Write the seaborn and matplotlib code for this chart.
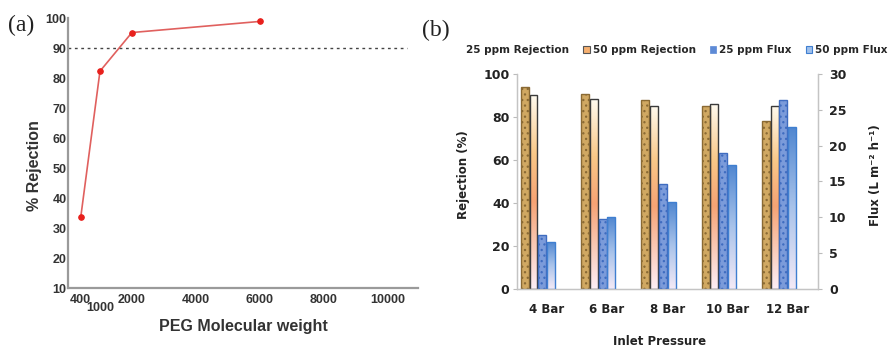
import numpy as np
import pandas as pd
import matplotlib
matplotlib.use("Agg")
import matplotlib.pyplot as plt
import seaborn as sns
from matplotlib.colors import LinearSegmentedColormap, to_hex
from matplotlib.patches import Patch

# ---------------- data ----------------
peg_mw = [400, 1000, 2000, 6000]
peg_rejection = [33.8, 82.4, 95.3, 99.0]
mw_ticks = [400, 1000, 2000, 4000, 6000, 8000, 10000]
rej_ticks_a = [10, 20, 30, 40, 50, 60, 70, 80, 90, 100]
threshold = 90

pressures = ["4 Bar", "6 Bar", "8 Bar", "10 Bar", "12 Bar"]
rej_25 = [93.8, 90.7, 87.9, 85.1, 77.9]
rej_50 = [90.2, 88.2, 85.1, 85.9, 85.1]
flux_25 = [7.6, 9.7, 14.6, 19.0, 26.4]
flux_50 = [6.6, 10.1, 12.1, 17.3, 22.6]
series = ["25 ppm Rejection", "50 ppm Rejection", "25 ppm Flux", "50 ppm Flux"]
rej_ticks_b = [0, 20, 40, 60, 80, 100]
flux_ticks = [0, 5, 10, 15, 20, 25, 30]

rows = []
for name, vals in zip(series, [rej_25, rej_50, flux_25, flux_50]):
    for p, v in zip(pressures, vals):
        rows.append({"Pressure": p, "Series": name, "Value": v})
df = pd.DataFrame(rows)
df_rej = df[df["Series"].str.contains("Rejection")]
df_flux = df[df["Series"].str.contains("Flux")]

# ---------------- style ----------------
sns.set_style("white")
plt.rcParams["font.family"] = ["DejaVu Sans"]
plt.rcParams["hatch.linewidth"] = 0.9

fig = plt.figure(figsize=(8.89, 3.48), dpi=100)
axa = fig.add_axes([0.0765, 0.172, 0.3937, 0.775])
axb = fig.add_axes([0.581, 0.1695, 0.339, 0.618])

# ---------------- panel (a) ----------------
fa = dict(family=["Liberation Sans", "DejaVu Sans"], weight="bold")
sns.lineplot(x=peg_mw, y=peg_rejection, ax=axa, color="#e0605e", lw=1.2,
             marker="o", markersize=4, markerfacecolor="#e8201c",
             markeredgecolor="#e8201c", clip_on=False)
axa.set_xlim(0, 10950)
axa.set_ylim(10, 100)
axa.axhline(threshold, xmin=0, xmax=10600 / 10950, color="#444444",
            ls=(0, (2, 2.6)), lw=1.0)
axa.set_xticks(mw_ticks)
axa.set_xticklabels([str(t) for t in mw_ticks], fontsize=9, color="#333333", **fa)
axa.set_yticks(rej_ticks_a)
axa.set_yticklabels([str(t) for t in rej_ticks_a], fontsize=9, color="#333333", **fa)
axa.tick_params(axis="both", length=0)
axa.tick_params(axis="x", pad=4)
axa.tick_params(axis="y", pad=1)
axa.xaxis.get_major_ticks()[1].set_pad(10)
for s in ["top", "right"]:
    axa.spines[s].set_visible(False)
for s in ["left", "bottom"]:
    axa.spines[s].set_color("#9a9a9a")
    axa.spines[s].set_linewidth(1.6)
axa.set_xlabel("PEG Molecular weight", fontsize=11.5, color="#333333", **fa)
axa.set_ylabel("% Rejection", fontsize=11.5, color="#333333", **fa)
axa.xaxis.set_label_coords(0.5, -0.113)
axa.yaxis.set_label_coords(-0.075, 0.456)

# ---------------- panel (b) ----------------
pal = {"25 ppm Rejection": "#d0a862", "50 ppm Rejection": "#f6b070",
       "25 ppm Flux": "#7b9bda", "50 ppm Flux": "#7aa3de"}
edges = {"25 ppm Rejection": "#8a6a34", "50 ppm Rejection": "#3a3a3a",
         "25 ppm Flux": "#3f6cc0", "50 ppm Flux": "#3f7fd0"}
hatches = {"25 ppm Rejection": "...", "25 ppm Flux": "..."}
color_to_series = {to_hex(c): n for n, c in pal.items()}

ax2 = axb.twinx()
sns.barplot(data=df_rej, x="Pressure", y="Value", hue="Series", hue_order=series,
            order=pressures, palette=pal, saturation=1, width=0.584, gap=0.1,
            ax=axb, legend=False)
sns.barplot(data=df_flux, x="Pressure", y="Value", hue="Series", hue_order=series,
            order=pressures, palette=pal, saturation=1, width=0.584, gap=0.1,
            ax=ax2, legend=False)

grad_rej = LinearSegmentedColormap.from_list(
    "gr", [(0, "#fdeef6"), (0.45, "#f6a374"), (0.7, "#f9c888"), (1, "#fffaee")])
grad_flux = LinearSegmentedColormap.from_list(
    "gf", [(0, "#f4eaf6"), (0.5, "#a9c3ea"), (1, "#4f86d0")])
gvals = np.linspace(0, 1, 200).reshape(-1, 1)

for ax in (axb, ax2):
    for patch in list(ax.patches):
        name = color_to_series.get(to_hex(patch.get_facecolor()))
        if name is None:
            continue
        patch.set_edgecolor(edges[name])
        patch.set_linewidth(1.0)
        if name in hatches:
            patch.set_hatch(hatches[name])
        else:
            cmap = grad_rej if "Rejection" in name else grad_flux
            x0, w, h = patch.get_x(), patch.get_width(), patch.get_height()
            patch.set_facecolor("none")
            im = ax.imshow(cmap(gvals), extent=(x0, x0 + w, 0, h), origin="lower",
                           aspect="auto", zorder=patch.get_zorder() - 0.05,
                           interpolation="bilinear")
            im.set_clip_path(patch)

shift = 0.1445
axb.set_xlim(-0.5 + shift, 4.5 + shift)
axb.set_ylim(0, 100)
ax2.set_ylim(0, 30)
axb.set_xticks(np.arange(len(pressures) + 1) - 0.5 + shift)
axb.set_xticklabels([])
axb.set_xticks(np.arange(len(pressures)) + shift, minor=True)
fb = dict(family=["DejaVu Sans"], weight="bold")
axb.set_xticklabels(pressures, minor=True, fontsize=8.5, color="#222222", **fb)
axb.tick_params(axis="x", which="minor", length=0, pad=10)
axb.tick_params(axis="x", which="major", length=3, color="#bbbbbb", width=0.8)
axb.set_yticks(rej_ticks_b)
axb.set_yticklabels([str(t) for t in rej_ticks_b], fontsize=9, color="#222222", **fb)
axb.tick_params(axis="y", length=3, color="#bbbbbb", width=0.8, pad=2)
ax2.set_yticks(flux_ticks)
ax2.set_yticklabels([str(t) for t in flux_ticks], fontsize=9, color="#222222", **fb)
ax2.tick_params(axis="y", length=3, color="#bbbbbb", width=0.8, pad=5)
for a in (axb, ax2):
    a.spines["top"].set_visible(False)
    for s in ["left", "right", "bottom"]:
        a.spines[s].set_color("#c4c4c4")
        a.spines[s].set_linewidth(0.9)
    a.grid(False)
axb.set_xlabel("Inlet Pressure", fontsize=8.5, color="#222222", **fb)
axb.set_ylabel("Rejection (%)", fontsize=8.5, color="#222222", **fb)
ax2.set_ylabel("Flux (L m\u207b\u00b2 h\u207b\u00b9)", fontsize=8.5, color="#222222", **fb)
axb.xaxis.set_label_coords(0.476, -0.215)
axb.yaxis.set_label_coords(-0.155, 0.53)
ax2.yaxis.set_label_coords(1.17, 0.53)

# legend
handles = [
    Patch(facecolor="none", edgecolor="none"),
    Patch(facecolor="#f6b070", edgecolor="#555555", lw=0.8),
    Patch(facecolor="#5d8ad6", edgecolor="#5d8ad6", lw=0.5),
    Patch(facecolor="#9fc0ec", edgecolor="#3f7fd0", lw=0.8),
]
fig.legend(handles, series, loc="center left", bbox_to_anchor=(0.514, 1 - 50 / 348),
           ncol=4, frameon=False, prop=dict(family="DejaVu Sans", weight="bold", size=7.5),
           handlelength=0.6, handleheight=0.6, handletextpad=0.3, columnspacing=1.35,
           borderpad=0, borderaxespad=0)

fig.text(8 / 889, 1 - 25 / 348, "(a)", family="Liberation Serif", fontsize=17,
         va="center", ha="left", color="#222222")
fig.text(422 / 889, 1 - 30 / 348, "(b)", family="Liberation Serif", fontsize=17,
         va="center", ha="left", color="#222222")

fig.savefig("out.png", dpi=100)
